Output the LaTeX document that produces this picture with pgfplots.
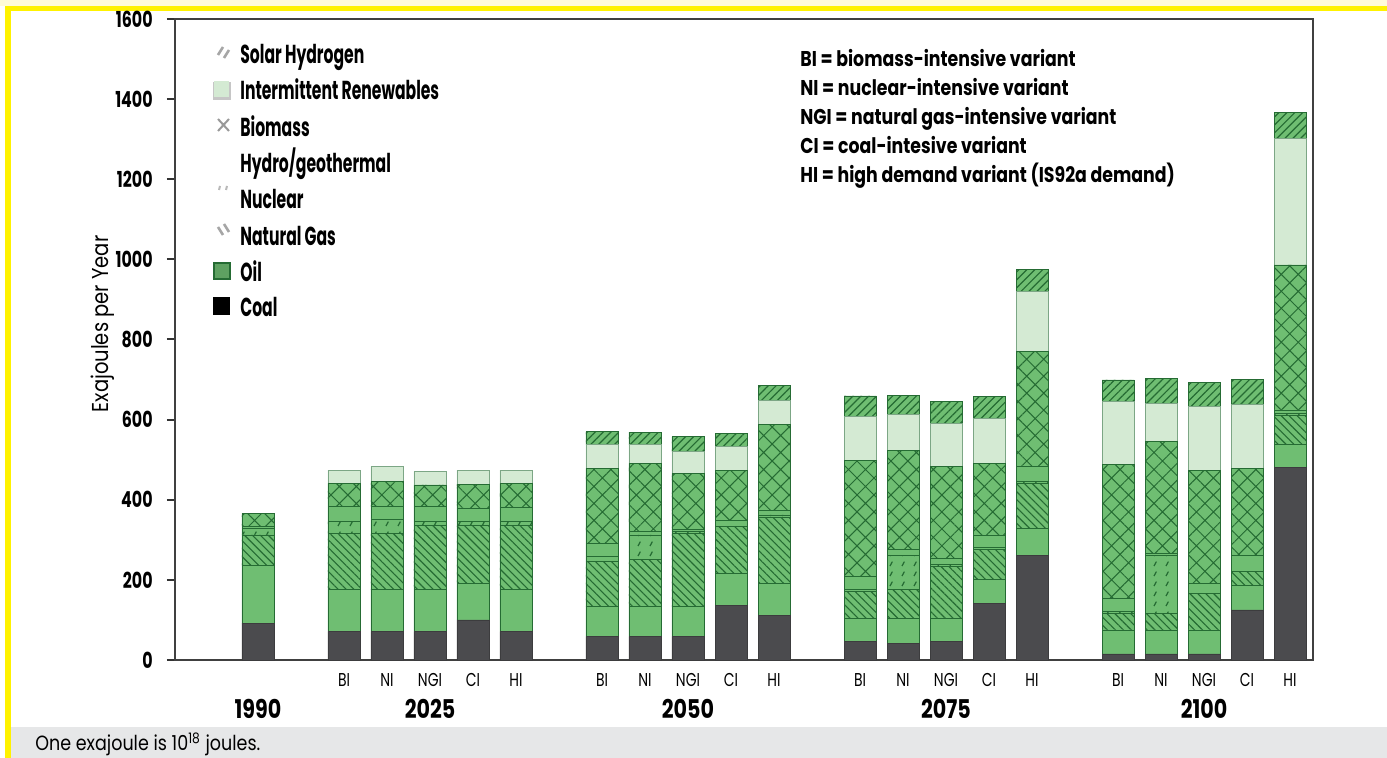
\documentclass[border=0pt]{standalone}
\usepackage{fontspec}
\usepackage{pgfplots}
\pgfplotsset{compat=1.18}
\usepackage{pgfplotstable}
\usetikzlibrary{patterns,patterns.meta}

\setmainfont{Poppins}
\newfontfamily\legfont{Poppins}[FakeStretch=0.6]
\newfontfamily\tickfont{Poppins}[FakeStretch=0.72]
\newfontfamily\notefont{Poppins}[FakeStretch=0.81]
\newfontfamily\yearfont{Poppins}[FakeStretch=0.8]
\newfontfamily\lightfont{Poppins}[FakeStretch=0.75]
\newfontfamily\footfont{Poppins}[FakeStretch=0.85]

\newcommand\fTick{\tickfont\bfseries\fontsize{11}{12}\selectfont}
\newcommand\fLeg{\legfont\bfseries\fontsize{13}{15}\selectfont}
\newcommand\fNote{\notefont\bfseries\fontsize{10.7}{12}\selectfont}
\newcommand\fYear{\yearfont\bfseries\fontsize{12.9}{14}\selectfont}
\newcommand\fVar{\lightfont\fontsize{9.3}{11}\selectfont}
\newcommand\fFoot{\footfont\fontsize{10.3}{12}\selectfont}
\newcommand\fYlab{\footfont\fontsize{11.5}{12}\selectfont}

\definecolor{barGreen}{HTML}{6FBE72}
\definecolor{lineGreen}{HTML}{256B33}
\definecolor{pale}{HTML}{D4EAD3}
\definecolor{coal}{HTML}{4B4B4E}
\definecolor{palegold}{HTML}{FFFBD8}
\definecolor{gold}{HTML}{FFF200}
\definecolor{footgrey}{HTML}{E6E7E8}

\pgfdeclarepatternformonly{nucl}{\pgfqpoint{-0.5pt}{-0.5pt}}{\pgfqpoint{6.5pt}{5.5pt}}{\pgfqpoint{6pt}{5pt}}{%
  \pgfsetlinewidth{0.6pt}%
  \pgfpathmoveto{\pgfqpoint{1pt}{1pt}}\pgfpathlineto{\pgfqpoint{2.2pt}{3.2pt}}%
  \pgfusepath{stroke}}

% x: 1990=0; 2025 BI..HI=2..6; 2050=8..12; 2075=14..18; 2100=20..24
\pgfplotstableread{
x  coal oil gas nuc hyd bio int sol
0  92   143 77  17  4   33  0   0
2  71   104 141 29  38  58  33  0
3  71   104 141 36  31  62  38  0
4  71   104 160 10  38  54  33  0
5  100  91  144 10  34  60  35  0
6  71   104 160 10  35  61  33  0
8  58   75  112 13  33  187 59  33
9  58   75  117 62  8   171 46  32
10 58   75  182 5   5   141 54  37
11 137  79  117 0   16  125 58  33
12 112  79  164 7   12  215 58  38
14 46   58  66  5   33  291 108 52
15 42   62  71  87  13  249 88  49
16 46   58  129 5   16  229 108 54
17 141  59  75  5   32  179 112 54
18 262  67  112 5   37  287 149 56
20 15   60  41  5   33  333 158 54
21 15   60  41  144 6   279 96  61
22 15   60  91  0   25  283 158 61
23 125  62  33  0   42  216 159 63
24 480  57  74  5   8   362 316 64
}\energy

\begin{document}
\begin{tikzpicture}
\useasboundingbox (0,0) rectangle (693.5pt,379pt);
\fill[white] (0,0) rectangle (693.5pt,379pt);
\begin{scope}[shift={(0pt,379pt)}, x=0.5pt, y=-0.5pt]
  \fill[palegold] (0,0) rectangle (1387,6);
  \fill[gold] (5,6) rectangle (1387,11);
  \fill[gold] (5,6) rectangle (11,758);
  \fill[footgrey] (11,727) rectangle (1387,758);
  \node[anchor=base west, inner sep=0pt, font=\fFoot] at (35,751) {One exajoule is 10\textsuperscript{18} joules.};
  \node[rotate=90, inner sep=0pt, font=\fYlab] at (103,324) {Exajoules per Year};
\end{scope}

\begin{axis}[
  at={(87.5pt,49pt)}, anchor=south west, scale only axis,
  width=569pt, height=320.5pt,
  xmin=-1.93, xmax=24.535, ymin=0, ymax=1600,
  ybar stacked, bar width=16pt,
  axis line style={black!75, line width=1pt},
  ytick={0,200,...,1600},
  ytick pos=left, tick align=outside, major tick length=4pt,
  ytick style={black!80, line width=1pt},
  xtick={0,2,3,4,5,6,8,9,10,11,12,14,15,16,17,18,20,21,22,23,24},
  xticklabels={,BI,NI,NGI,CI,HI,BI,NI,NGI,CI,HI,BI,NI,NGI,CI,HI,BI,NI,NGI,CI,HI},
  xtick style={draw=none},
  xticklabel style={font=\fVar, inner sep=0pt, anchor=north, yshift=-2.5pt},
  yticklabel style={font=\fTick, inner sep=0pt, anchor=east, xshift=-7pt},
  /pgf/number format/assume math mode=true,
  /pgf/number format/1000 sep={},
  extra x ticks={0,4,10,16,22},
  extra x tick labels={1990,2025,2050,2075,2100},
  extra x tick style={major tick length=0pt, xticklabel style={font=\fYear, yshift=-17pt}},
  clip=false,
]
\addplot[fill=coal, draw=coal!80!black, line width=0.4pt] table[x=x,y=coal]{\energy};
\addplot[fill=barGreen, draw=lineGreen, line width=0.4pt] table[x=x,y=oil]{\energy};
\addplot[fill=barGreen, draw=lineGreen, line width=0.4pt, postaction={pattern color=lineGreen, pattern={Lines[angle=-45,distance=2.8pt,line width=0.55pt]}}] table[x=x,y=gas]{\energy};
\addplot[fill=barGreen, draw=lineGreen, line width=0.4pt, postaction={pattern color=lineGreen, pattern=nucl}] table[x=x,y=nuc]{\energy};
\addplot[fill=barGreen, draw=lineGreen, line width=0.4pt] table[x=x,y=hyd]{\energy};
\addplot[fill=barGreen, draw=lineGreen, line width=0.4pt, postaction={pattern color=lineGreen, pattern={Hatch[angle=45,distance=6pt,line width=0.5pt]}}] table[x=x,y=bio]{\energy};
\addplot[fill=pale, draw=lineGreen!60, line width=0.4pt] table[x=x,y=int]{\energy};
\addplot[fill=barGreen, draw=lineGreen, line width=0.4pt, postaction={pattern color=lineGreen, pattern={Lines[angle=45,distance=2.8pt,line width=0.6pt]}}] table[x=x,y=sol]{\energy};
\end{axis}

\begin{scope}[shift={(0pt,379pt)}, x=0.5pt, y=-0.5pt]
  % legend
  \foreach \t/\b in {Solar Hydrogen/64, Intermittent Renewables/100, Biomass/137, {Hydro/geothermal}/173, Nuclear/209, Natural Gas/246, Oil/282, Coal/317}
    {\node[anchor=base west, inner sep=0pt, font=\fLeg] at (240,\b) {\t};}
  \draw[gray!70, line width=1.3pt] (218,55)--(223,47) (224,58)--(229,50);
  \fill[gray!45] (213,82) rectangle (231,100);
  \fill[pale] (214,81) rectangle (229,97);
  \draw[gray!80, line width=1pt] (218,119)--(229,131) (218,131)--(229,119);
  \draw[gray!55, line width=1pt] (219,190)--(220,186) (226,190)--(227,186);
  \draw[gray!70, line width=1.3pt] (218,227)--(223,235) (224,224)--(229,232);
  \fill[lineGreen] (213,262) rectangle (231,280);
  \fill[barGreen!85!black] (215,264) rectangle (229,278);
  \fill[black] (213,297) rectangle (230,315);
  % annotation
  \foreach \t/\b in {BI = biomass-intensive variant/67, NI = nuclear-intensive variant/96, NGI = natural gas-intensive variant/125, CI = coal-intesive variant/154, HI = high demand variant (IS92a demand)/183}
    {\node[anchor=base west, inner sep=0pt, font=\fNote] at (800,\b) {\t};}
\end{scope}
\end{tikzpicture}
\end{document}
